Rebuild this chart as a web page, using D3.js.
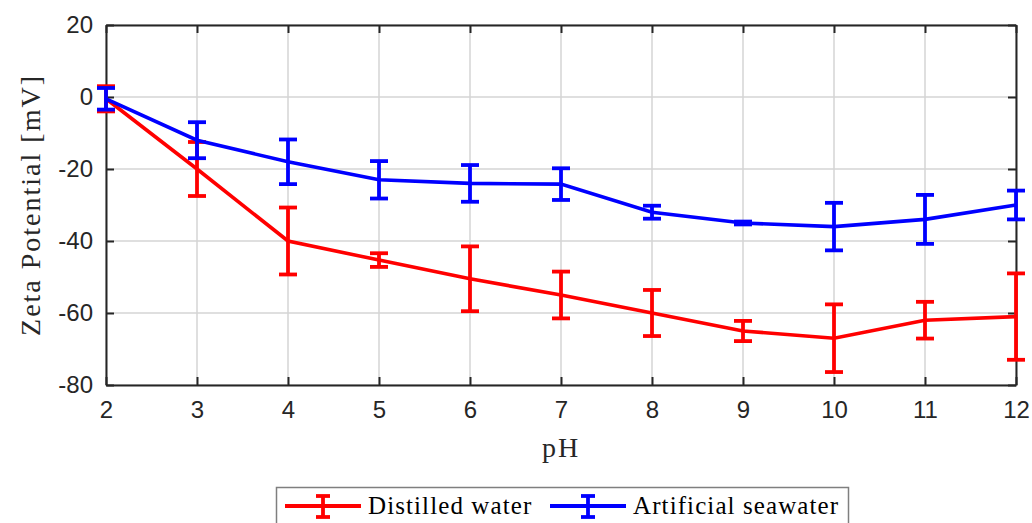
<!DOCTYPE html>
<html>
  <head>
    <meta charset="utf-8">
    <title>Zeta Potential vs pH</title>
    <script src="https://d3js.org/d3.v7.min.js"></script>
    <style>
      body {
        margin: 0;
        background-color: white;
      }
      .tick text {
        font-family: "Liberation Sans", Arial, sans-serif;
        font-size: 24px;
        fill: #262626;
      }
      .label {
        font-family: "Liberation Serif", "DejaVu Serif", serif;
        font-size: 28px;
        letter-spacing: 2px;
        fill: #262626;
      }
      .legend-text {
        font-family: "Liberation Serif", "DejaVu Serif", serif;
        font-size: 25px;
        letter-spacing: 1.1px;
        fill: #000;
      }
    </style>
  </head>
  <body>
    <script>
      // values
      const pH = [2, 3, 4, 5, 6, 7, 8, 9, 10, 11, 12];
      const distilled = [-0.5, -20, -40, -45.3, -50.5, -55, -60, -65, -67, -62, -61];
      const distilledErr = [3.5, 7.5, 9.3, 1.9, 9, 6.5, 6.4, 2.8, 9.4, 5.1, 12];
      const seawater = [-0.5, -12, -18, -23, -24, -24.2, -32, -35, -36, -34, -30];
      const seawaterErr = [3, 5, 6.2, 5.2, 5.1, 4.4, 1.8, 0.4, 6.6, 6.8, 4];
      const xTicks = [2, 3, 4, 5, 6, 7, 8, 9, 10, 11, 12];
      const yTicks = [20, 0, -20, -40, -60, -80];

      const series = [
        { name: 'Distilled water', color: '#ff0000', y: distilled, err: distilledErr },
        { name: 'Artificial seawater', color: '#0000ff', y: seawater, err: seawaterErr }
      ];

      const w = 1032;
      const h = 523;
      const m = { left: 106, top: 25, right: 1016, bottom: 385 };
      const axisColor = '#262626';

      const xScale = d3.scaleLinear().domain([2, 12]).range([m.left, m.right]);
      const yScale = d3.scaleLinear().domain([-80, 20]).range([m.bottom, m.top]);

      const svg = d3.select('body')
                    .append('svg')
                    .attr('width', w)
                    .attr('height', h);

      // grid
      svg.append('g')
         .selectAll('line')
         .data(xTicks)
         .enter()
         .append('line')
         .attr('x1', d => xScale(d))
         .attr('x2', d => xScale(d))
         .attr('y1', m.top)
         .attr('y2', m.bottom)
         .attr('stroke', '#d4d4d4')
         .attr('stroke-width', 1.5);

      svg.append('g')
         .selectAll('line')
         .data(yTicks)
         .enter()
         .append('line')
         .attr('x1', m.left)
         .attr('x2', m.right)
         .attr('y1', d => yScale(d))
         .attr('y2', d => yScale(d))
         .attr('stroke', '#d4d4d4')
         .attr('stroke-width', 1.5);

      // axes, ticks pointing inward; plain hyphen for negatives like the original
      const fmt = d => String(d);
      const xAxis = d3.axisBottom(xScale).tickValues(xTicks).tickFormat(fmt).tickSizeInner(-8).tickSizeOuter(0).tickPadding(16);
      const yAxis = d3.axisLeft(yScale).tickValues(yTicks).tickFormat(fmt).tickSizeInner(-8).tickSizeOuter(0).tickPadding(13);
      const xTop = d3.axisTop(xScale).tickValues(xTicks).tickSizeInner(-8).tickSizeOuter(0).tickFormat('');
      const yRight = d3.axisRight(yScale).tickValues(yTicks).tickSizeInner(-8).tickSizeOuter(0).tickFormat('');

      const gx = svg.append('g').attr('transform', `translate(0, ${m.bottom})`).call(xAxis);
      const gy = svg.append('g').attr('transform', `translate(${m.left}, 0)`).call(yAxis);
      const gt = svg.append('g').attr('transform', `translate(0, ${m.top})`).call(xTop);
      const gr = svg.append('g').attr('transform', `translate(${m.right}, 0)`).call(yRight);

      [gx, gy, gt, gr].forEach(g => {
        g.selectAll('path, line').attr('stroke', axisColor).attr('stroke-width', 2);
      });

      // lines and error bars
      const line = d3.line()
                     .x((d, i) => xScale(pH[i]))
                     .y(d => yScale(d));

      const cap = 9;
      series.forEach(s => {
        const g = svg.append('g');
        const bars = g.selectAll('g.err')
                      .data(pH.map((p, i) => ({ p: p, y: s.y[i], e: s.err[i] })))
                      .enter()
                      .append('g')
                      .attr('class', 'err')
                      .attr('stroke', s.color)
                      .attr('stroke-width', 3.8);
        bars.append('line')
            .attr('x1', d => xScale(d.p)).attr('x2', d => xScale(d.p))
            .attr('y1', d => yScale(d.y + d.e)).attr('y2', d => yScale(d.y - d.e));
        bars.append('line')
            .attr('x1', d => xScale(d.p) - cap).attr('x2', d => xScale(d.p) + cap)
            .attr('y1', d => yScale(d.y + d.e)).attr('y2', d => yScale(d.y + d.e));
        bars.append('line')
            .attr('x1', d => xScale(d.p) - cap).attr('x2', d => xScale(d.p) + cap)
            .attr('y1', d => yScale(d.y - d.e)).attr('y2', d => yScale(d.y - d.e));
        g.append('path')
         .datum(s.y)
         .attr('d', line)
         .attr('fill', 'none')
         .attr('stroke', s.color)
         .attr('stroke-width', 3.6);
      });

      // axis labels
      svg.append('text')
         .attr('class', 'label')
         .attr('x', (m.left + m.right) / 2)
         .attr('y', 457)
         .attr('text-anchor', 'middle')
         .text('pH');

      svg.append('text')
         .attr('class', 'label')
         .attr('transform', `translate(40, ${(m.top + m.bottom) / 2}) rotate(-90)`)
         .attr('text-anchor', 'middle')
         .text('Zeta Potential [mV]');

      // legend
      const lg = svg.append('g');
      lg.append('rect')
        .attr('x', 276.5).attr('y', 487.5)
        .attr('width', 572).attr('height', 45)
        .attr('fill', 'white')
        .attr('stroke', '#7f7f7f')
        .attr('stroke-width', 1.5);

      const legendPos = [285, 550];
      series.forEach((s, i) => {
        const x0 = legendPos[i];
        const cy = 506;
        const item = lg.append('g').attr('stroke', s.color).attr('stroke-width', 3.8);
        item.append('line').attr('x1', x0).attr('x2', x0 + 76).attr('y1', cy).attr('y2', cy);
        item.append('line').attr('x1', x0 + 38).attr('x2', x0 + 38).attr('y1', cy - 10).attr('y2', cy + 11);
        item.append('line').attr('x1', x0 + 31).attr('x2', x0 + 45).attr('y1', cy - 10).attr('y2', cy - 10);
        item.append('line').attr('x1', x0 + 31).attr('x2', x0 + 45).attr('y1', cy + 11).attr('y2', cy + 11);
        lg.append('text')
          .attr('class', 'legend-text')
          .attr('x', x0 + 83)
          .attr('y', cy + 8)
          .text(s.name);
      });
    </script>
  </body>
</html>
